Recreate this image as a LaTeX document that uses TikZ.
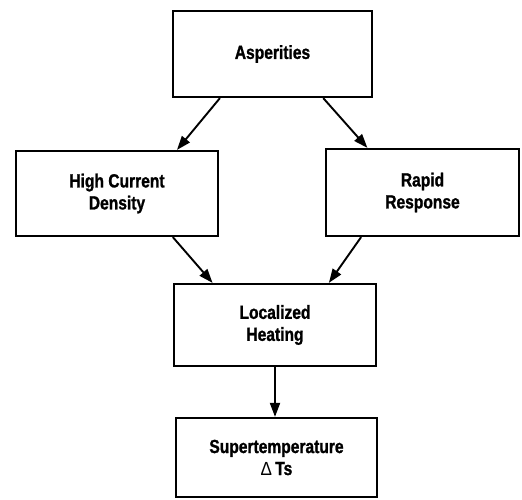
\documentclass[tikz,border=0pt]{standalone}
\usepackage{fontspec}
\setmainfont{Liberation Sans}
\newfontfamily\condbold[FakeStretch=0.82, FakeBold=1.2]{Liberation Sans Bold}
\newfontfamily\condlight[FakeStretch=0.9]{Liberation Sans}
\usepackage{tikz}
\usetikzlibrary{arrows.meta}

\begin{document}
\begin{tikzpicture}[
  x=1pt, y=1pt,
  stagebox/.style={rectangle, draw=black, line width=2.2pt, fill=white, align=center, font=\fontsize{19}{22}\condbold},
  arr/.style={-{Triangle[length=14pt, width=10pt]}, line width=1.9pt, draw=black}
]
\useasboundingbox (0,0) rectangle (522,500);
\node[stagebox, minimum width=199pt, minimum height=86pt] (asp) at (272.5,446) {Asperities};
\node[stagebox, minimum width=202pt, minimum height=85pt] (hcd) at (117,306.5) {High Current\\Density};
\node[stagebox, minimum width=193pt, minimum height=87pt] (rr) at (422.5,307.5) {Rapid\\Response};
\node[stagebox, minimum width=202pt, minimum height=82pt] (lh) at (275,175) {Localized\\Heating};
\node[stagebox, minimum width=201pt, minimum height=79pt] (st) at (276.5,42.5) {Supertemperature\\{\condlight Δ}\,Ts};

\draw[arr] (asp.220) -- (hcd.36);
\draw[arr] (asp.-41) -- (rr.141);
\draw[arr] (hcd.-38) -- (lh.146);
\draw[arr] (rr.216) -- (lh.38);
\draw[arr] (lh.south) -- (lh.south |- st.north);
\end{tikzpicture}
\end{document}
